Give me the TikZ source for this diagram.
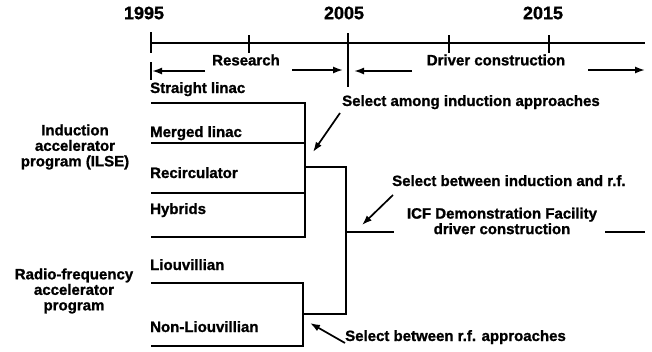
\documentclass[tikz,border=0pt]{standalone}
\usepackage{fontspec}
\setmainfont{Liberation Sans}
\newfontfamily\heavyfont[FakeBold=1.2]{Liberation Sans Bold}
\usetikzlibrary{arrows.meta}
\begin{document}
\begin{tikzpicture}[x=1pt,y=-1pt,
  lbl/.style={font=\heavyfont\fontsize{15}{15.5}\selectfont, inner sep=0pt},
  yr/.style={font=\heavyfont\fontsize{18}{18}\selectfont, inner sep=0pt},
  ln/.style={line width=1.7pt},
  tick/.style={line width=1.4pt},
  arr/.style={line width=1.7pt, -{Latex[length=10pt,width=7pt]}},
]
\useasboundingbox (0,0) rectangle (652,351);

% years
\node[yr] (y1995) at (144,13) {1995};
\node[yr] (y2005) at (344,13) {2005};
\node[yr] (y2015) at (543,13) {2015};

% timeline
\coordinate (tl0) at (151,43);
\coordinate (tl1) at (645,43);
\draw[ln] (tl0) -- (tl1);
\draw[tick] (151,32) -- (151,53);
\draw[tick] (151,62) -- (151,80);
\draw[tick] (249,35) -- (249,53);
\draw[tick] (348,33) -- (348,87);
\draw[tick] (449,35) -- (449,53);
\draw[tick] (549,35) -- (549,53);

% phases
\node[lbl] (research) at (246,60) {Research};
\node[lbl] (driver) at (496,60) {Driver construction};
\coordinate (ra0) at (205,71); \coordinate (ra1) at (152,71);
\coordinate (rb0) at (292,70); \coordinate (rb1) at (343,70);
\coordinate (da0) at (412,71); \coordinate (da1) at (354,71);
\coordinate (db0) at (588,70); \coordinate (db1) at (645,70);
\draw[arr] (ra0) -- (ra1);
\draw[arr] (rb0) -- (rb1);
\draw[arr] (da0) -- (da1);
\draw[arr] (db0) -- (db1);

% left programs
\node[lbl, align=center] (ind) at (75,147) {Induction\\accelerator\\program (ILSE)};
\node[lbl, align=center] (rf) at (74,291) {Radio-frequency\\accelerator\\program};

% induction branches
\node[lbl, anchor=base west] (sl) at (150,93) {Straight linac};
\node[lbl, anchor=base west] (ml) at (150,137) {Merged linac};
\node[lbl, anchor=base west] (rc) at (150,178) {Recirculator};
\node[lbl, anchor=base west] (hy) at (150,214) {Hybrids};
\coordinate (l1a) at (151,103); \coordinate (l1b) at (305,103);
\coordinate (l2a) at (151,143); \coordinate (l2b) at (305,143);
\coordinate (l3a) at (151,193); \coordinate (l3b) at (305,193);
\coordinate (l4a) at (151,237); \coordinate (l4b) at (305,237);
\draw[ln] (l1a) -- (l1b) -- (l4b) -- (l4a);
\draw[ln] (l2a) -- (l2b);
\draw[ln] (l3a) -- (l3b);

% rf branches
\node[lbl, anchor=base west] (lv) at (150,270) {Liouvillian};
\node[lbl, anchor=base west] (nlv) at (150,332) {Non-Liouvillian};
\coordinate (r1a) at (151,283); \coordinate (r1b) at (303,283);
\coordinate (r2a) at (151,346); \coordinate (r2b) at (303,346);
\draw[ln] (r1a) -- (r1b) -- (r2b) -- (r2a);

% joins
\coordinate (ij) at (305,167);
\coordinate (rj) at (303,314);
\coordinate (jt) at (346,167);
\coordinate (jb) at (346,314);
\coordinate (jm) at (346,232);
\draw[ln] (ij) -- (jt) -- (jb) -- (rj);
\coordinate (ic0) at (394,232);
\draw[ln] (jm) -- (ic0);
\coordinate (ic1) at (605,232);
\coordinate (ic2) at (645,232);
\draw[ln] (ic1) -- (ic2);
\node[lbl, align=center] (icf) at (502,221) {ICF Demonstration Facility\\driver construction};

% selection notes
\node[lbl, anchor=base west] (s1) at (342,106) {Select among induction approaches};
\node[lbl, anchor=base west] (s2) at (392,186) {Select between induction and r.f.};
\node[lbl, anchor=base west] (s3) at (345,341) {Select between r.f. approaches};
\coordinate (a1s) at (340,113); \coordinate (a1e) at (313,152);
\coordinate (a2s) at (393,195); \coordinate (a2e) at (362,225);
\coordinate (a3s) at (345,343); \coordinate (a3e) at (310,323);
\draw[arr] (a1s) -- (a1e);
\draw[arr] (a2s) -- (a2e);
\draw[arr] (a3s) -- (a3e);
\end{tikzpicture}
\end{document}
